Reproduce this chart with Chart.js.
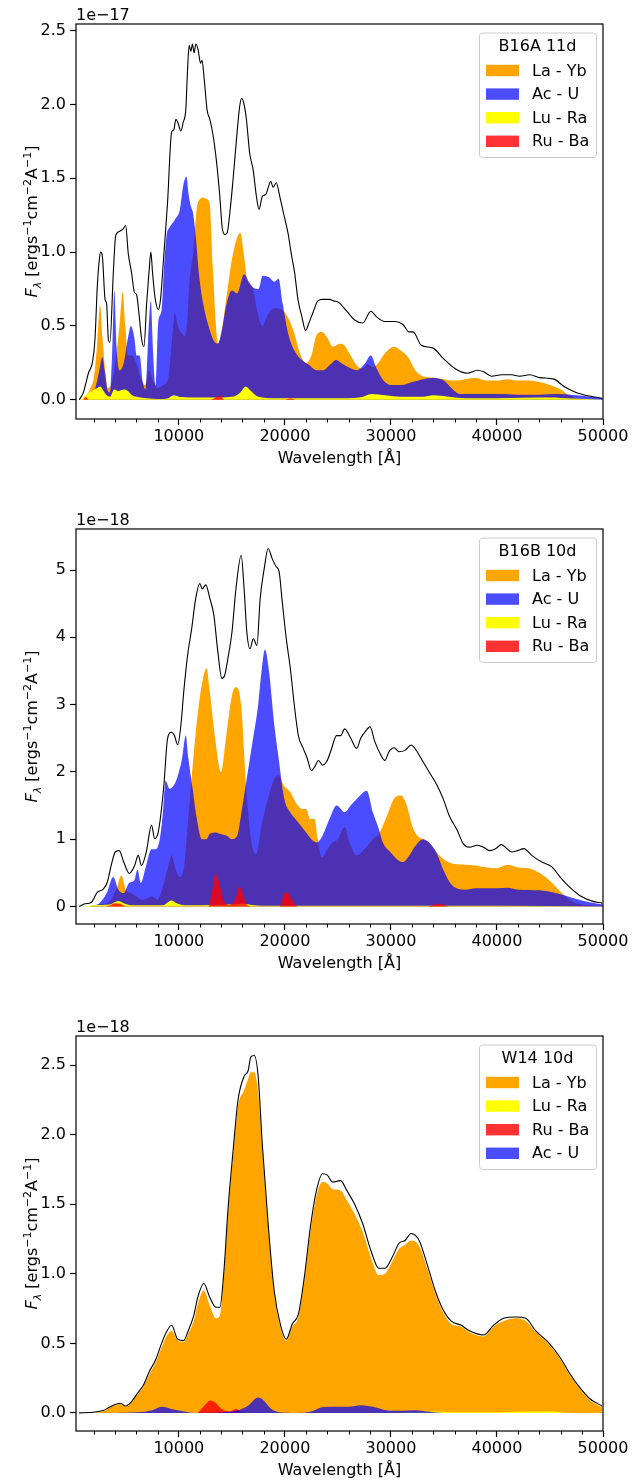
<!DOCTYPE html>
<html>
<head>
<meta charset="utf-8">
<script src="https://cdn.jsdelivr.net/npm/chart.js@4.4.1/dist/chart.umd.min.js"></script>
<style>
  html, body { margin: 0; padding: 0; background: #fff; }
  body { width: 632px; height: 1481px; position: relative; overflow: hidden; }
  canvas { position: absolute; left: 0; }
</style>
</head>
<body>
<canvas id="panelA" width="632" height="469" style="top:0px"></canvas>
<canvas id="panelB" width="632" height="469" style="top:505px"></canvas>
<canvas id="panelC" width="632" height="469" style="top:1012px"></canvas>
<script>
// ===============================
// DATA (flux in units of the panel exponent, wavelength in Angstrom)
// ===============================
const wavelengthTicks = [10000, 20000, 30000, 40000, 50000];
const wavelengthMinorTicks = [2000, 4000, 6000, 8000, 12000, 14000, 16000, 18000, 22000, 24000, 26000, 28000,
  32000, 34000, 36000, 38000, 42000, 44000, 46000, 48000];
const fluxTicksA = [0, 0.5, 1.0, 1.5, 2.0, 2.5];
const fluxTicksB = [0, 1, 2, 3, 4, 5];
const fluxTicksC = [0, 0.5, 1.0, 1.5, 2.0, 2.5];
const panelTitles = ['B16A 11d', 'B16B 10d', 'W14 10d'];
const panelExponents = ['1e\u221217', '1e\u221218', '1e\u221218'];

// B16A 11d
const b16aTotal = [[600,0],[1000,0.05],[1150,0.09],[1470,0.18],[1870,0.26],[2090,0.41],[2310,0.77],[2500,0.95],[2630,1.00],[2790,0.97],[3040,0.68],[3190,0.65],[3350,0.41],[3500,0.39],[3820,0.86],[4040,1.11],[4380,1.14],[4760,1.16],[4980,1.18],[5230,0.99],[5540,0.86],[5800,0.73],[6020,0.71],[6230,0.59],[6490,0.41],[6710,0.36],[6960,0.65],[7180,0.86],[7360,1.00],[7520,0.86],[7740,0.70],[8060,0.61],[8270,0.68],[8590,0.99],[8930,1.33],[9310,1.81],[9530,1.83],[9720,1.90],[9940,1.87],[10190,1.82],[10410,1.88],[10660,1.97],[10780,2.17],[10970,2.40],[11130,2.36],[11280,2.41],[11440,2.35],[11600,2.41],[11820,2.37],[12040,2.28],[12190,2.30],[12380,2.18],[12670,1.96],[12920,1.90],[13230,1.79],[13540,1.62],[13860,1.38],[14080,1.17],[14330,1.12],[14550,1.13],[14800,1.26],[15110,1.49],[15430,1.76],[15740,1.99],[15930,2.04],[16120,2.01],[16370,1.90],[16680,1.67],[17000,1.56],[17310,1.38],[17560,1.29],[17880,1.38],[18190,1.39],[18440,1.44],[18660,1.48],[18880,1.44],[19190,1.47],[19510,1.38],[19880,1.26],[20290,1.13],[20600,0.99],[20920,0.86],[21230,0.68],[21610,0.56],[21950,0.47],[22270,0.52],[22640,0.59],[23110,0.67],[23580,0.68],[24210,0.68],[24600,0.67],[25070,0.66],[25830,0.60],[26580,0.54],[27340,0.52],[28100,0.60],[28670,0.56],[29430,0.53],[30380,0.53],[31140,0.51],[31700,0.46],[32090,0.46],[32850,0.37],[33980,0.35],[34930,0.28],[36070,0.21],[37210,0.18],[38160,0.20],[38730,0.19],[39490,0.16],[40440,0.17],[41380,0.17],[42140,0.16],[43090,0.17],[44040,0.15],[45370,0.14],[46320,0.09],[47460,0.05],[48600,0.027],[49920,0.01]];
const b16aLaYb = [[700,0],[1200,0.02],[1600,0.07],[2000,0.16],[2300,0.38],[2570,0.64],[2800,0.42],[3050,0.2],[3300,0.08],[3600,0.1],[4000,0.25],[4400,0.5],[4700,0.73],[4950,0.5],[5200,0.3],[5600,0.3],[6000,0.25],[6400,0.15],[6800,0.1],[7200,0.2],[7600,0.12],[8000,0.08],[8500,0.1],[9000,0.15],[9400,0.45],[9620,0.59],[9900,0.5],[10300,0.45],[10560,0.43],[10800,0.55],[11000,0.8],[11350,1.0],[11700,1.3],[12000,1.36],[12300,1.37],[12600,1.36],[12900,1.33],[13200,0.9],[13500,0.5],[13700,0.38],[14000,0.45],[14500,0.7],[15000,0.95],[15500,1.1],[15800,1.13],[16100,1.0],[16500,0.8],[16900,0.77],[17400,0.6],[17860,0.5],[18400,0.58],[19000,0.62],[19700,0.61],[20200,0.57],[20800,0.47],[21500,0.3],[22000,0.25],[22500,0.3],[23000,0.44],[23500,0.46],[24000,0.42],[24500,0.36],[25200,0.38],[25600,0.37],[26200,0.3],[26800,0.23],[27300,0.21],[27800,0.24],[28300,0.22],[28800,0.25],[29500,0.32],[30300,0.36],[31000,0.33],[31700,0.28],[32300,0.2],[33000,0.16],[34000,0.15],[35000,0.14],[36000,0.13],[37000,0.14],[38000,0.15],[39000,0.13],[40000,0.13],[41000,0.14],[42000,0.13],[43000,0.13],[44000,0.12],[45000,0.1],[46000,0.07],[46800,0.03],[47500,0.01],[48500,0]];
const b16aAcU = [[1200,0],[1800,0.03],[2200,0.1],[2500,0.2],[2790,0.29],[3000,0.2],[3300,0.06],[3500,0.05],[3700,0.3],[3910,0.74],[4130,0.35],[4400,0.2],[4800,0.25],[5200,0.42],[5480,0.5],[5800,0.42],[6020,0.3],[6300,0.3],[6600,0.12],[6850,0.07],[7100,0.4],[7360,0.67],[7550,0.35],[7800,0.1],[8050,0.52],[8370,0.61],[8600,0.9],[8840,1.11],[9150,1.17],[9620,1.22],[10100,1.29],[10410,1.45],[10720,1.51],[10900,1.4],[11100,1.32],[11350,1.26],[11600,1.1],[11900,0.85],[12300,0.65],[12800,0.5],[13300,0.4],[13680,0.38],[14000,0.45],[14500,0.65],[15010,0.74],[15500,0.72],[16150,0.85],[16600,0.8],[17000,0.76],[17500,0.75],[17900,0.84],[18500,0.83],[19000,0.8],[19400,0.82],[19800,0.65],[20300,0.45],[21000,0.32],[21600,0.27],[22200,0.24],[23000,0.2],[23600,0.2],[24300,0.24],[24800,0.27],[25300,0.25],[26000,0.22],[26800,0.2],[27500,0.24],[28100,0.3],[28600,0.22],[29300,0.13],[30000,0.1],[31000,0.1],[32000,0.12],[33000,0.14],[34000,0.15],[35000,0.13],[35700,0.08],[36500,0.04],[38000,0.04],[40000,0.04],[42000,0.035],[44000,0.035],[46000,0.04],[47500,0.03],[49000,0.02],[50000,0.01]];
const b16aLuRa = [[800,0],[1200,0.03],[1800,0.06],[2300,0.08],[2600,0.09],[2900,0.06],[3200,0.03],[3500,0.02],[3900,0.07],[4300,0.06],[4800,0.07],[5200,0.06],[5600,0.03],[6000,0.02],[7000,0.01],[8000,0.005],[9000,0.01],[9500,0.03],[10000,0.02],[11000,0.015],[13000,0.015],[15000,0.02],[15800,0.05],[16300,0.09],[16800,0.06],[17500,0.02],[19000,0.01],[21000,0.01],[25000,0.01],[27000,0.015],[28200,0.04],[29500,0.03],[31000,0.02],[33000,0.02],[34000,0.03],[35500,0.02],[37000,0.01],[40000,0.01],[45000,0.015],[47000,0.008],[50000,0]];
const b16aRuBa = [[1000,0],[1200,0.02],[1500,0],[13000,0],[13600,0.02],[13900,0.025],[14300,0],[20000,0],[20500,0.008],[21000,0],[50000,0]];

// B16B 10d
const b16bTotal = [[600,0],[1160,0.04],[1730,0.06],[2300,0.21],[2870,0.26],[3250,0.36],[3620,0.61],[4000,0.81],[4380,0.83],[4760,0.68],[5330,0.49],[5830,0.61],[6170,0.76],[6470,0.61],[6930,0.81],[7420,1.21],[7720,1.01],[8060,1.11],[8560,1.75],[8940,2.5],[9320,2.59],[9580,2.54],[9890,2.4],[10190,2.69],[10460,3.19],[10830,3.74],[11210,4.13],[11590,4.58],[11970,4.8],[12200,4.72],[12540,4.78],[12920,4.58],[13300,4.33],[13680,3.78],[14060,3.39],[14330,3.44],[14630,3.69],[15010,4.08],[15390,4.73],[15880,5.22],[16150,4.73],[16410,4.08],[16720,3.83],[17020,3.98],[17360,3.88],[17670,4.58],[18050,5.02],[18420,5.32],[18800,5.17],[19180,5.05],[19450,4.98],[19750,4.53],[20130,3.98],[20510,3.54],[20890,2.99],[21270,2.54],[21730,2.35],[22110,2.2],[22490,2.02],[22790,2.07],[23170,2.17],[23550,2.1],[23930,2.15],[24310,2.3],[24880,2.54],[25260,2.54],[25640,2.64],[26210,2.5],[26770,2.35],[27150,2.5],[27530,2.59],[28030,2.67],[28480,2.45],[29050,2.25],[29430,2.17],[29810,2.3],[30300,2.36],[30760,2.3],[31330,2.32],[31900,2.4],[32470,2.3],[33030,2.15],[33600,2.0],[34360,1.8],[34930,1.6],[35500,1.35],[36260,1.13],[36830,0.93],[37400,0.88],[38160,0.91],[38730,0.88],[39300,0.83],[39870,0.86],[40440,0.92],[40930,0.86],[41380,0.81],[41950,0.83],[42520,0.86],[43280,0.76],[44230,0.66],[45180,0.59],[45940,0.44],[46700,0.31],[47840,0.16],[48980,0.08],[49920,0.05]];
const b16bLaYb = [[1500,0],[2500,0.03],[3500,0.08],[4200,0.3],[4570,0.46],[5000,0.25],[5500,0.2],[6000,0.15],[6500,0.1],[7000,0.12],[7500,0.15],[8000,0.1],[8500,0.3],[9000,0.6],[9320,0.76],[9700,0.55],[10080,0.44],[10500,0.6],[10830,1.2],[11200,1.9],[11600,2.6],[12160,3.29],[12620,3.54],[12920,3.19],[13420,2.5],[13980,2.0],[14440,2.5],[15010,3.14],[15390,3.26],[15880,2.99],[16340,1.8],[16800,1.0],[17300,0.78],[17800,1.2],[18400,1.6],[19000,1.9],[19400,1.95],[19900,1.8],[20510,1.7],[21000,1.55],[21650,1.45],[22000,1.45],[22400,1.3],[22800,1.3],[23100,1.0],[23500,0.73],[24000,0.85],[24500,0.95],[25000,1.0],[25640,1.18],[26100,0.95],[26770,0.76],[27500,0.85],[28300,1.0],[28860,1.08],[29500,1.3],[30300,1.6],[30950,1.65],[31500,1.5],[32000,1.2],[32500,1.05],[33030,1.0],[33600,0.95],[34200,0.82],[35000,0.7],[36000,0.63],[37000,0.62],[38000,0.61],[39000,0.58],[40000,0.57],[41000,0.62],[42000,0.58],[43000,0.57],[44000,0.5],[45000,0.38],[46000,0.22],[47000,0.08],[48000,0.03],[49000,0.02],[50000,0.01]];
const b16bAcU = [[1500,0],[2500,0.05],[3200,0.2],[3800,0.44],[4300,0.25],[4800,0.2],[5300,0.35],[5800,0.39],[6100,0.55],[6400,0.35],[6900,0.6],[7420,0.85],[7800,0.85],[8200,1.0],[8500,1.4],[8750,1.87],[9130,1.75],[9600,1.82],[10000,2.0],[10300,2.2],[10650,2.54],[10900,2.2],[11300,1.75],[11700,1.3],[12160,1.0],[12600,1.0],[12920,1.08],[13500,1.1],[13870,1.08],[14500,1.05],[15000,1.0],[15500,1.05],[16000,1.5],[16500,2.0],[17000,2.5],[17480,3.0],[17800,3.5],[18120,3.82],[18500,3.5],[19000,2.7],[19370,2.25],[19940,1.6],[20500,1.4],[21000,1.3],[21500,1.2],[22000,1.1],[22500,1.0],[23000,0.95],[23550,1.05],[24200,1.3],[24880,1.5],[25640,1.4],[26200,1.5],[26800,1.6],[27720,1.72],[28300,1.4],[28860,1.15],[29240,0.95],[30000,0.8],[30600,0.7],[31140,0.66],[31700,0.75],[32300,0.9],[33030,1.0],[33600,0.95],[34300,0.8],[34930,0.55],[35600,0.35],[36200,0.27],[37000,0.25],[38000,0.27],[40000,0.27],[41000,0.28],[42000,0.25],[44000,0.24],[45500,0.2],[46500,0.16],[47500,0.11],[48500,0.07],[49500,0.04],[50000,0.03]];
const b16bLuRa = [[1000,0],[2000,0.02],[3500,0.03],[4300,0.08],[4800,0.05],[5500,0.02],[8500,0.02],[9300,0.09],[9800,0.05],[10500,0.02],[12000,0.02],[15000,0.03],[16000,0.04],[17000,0.02],[20000,0.01],[30000,0.01],[40000,0.01],[50000,0]];
const b16bRuBa = [[1000,0],[3000,0],[3500,0.02],[4000,0.05],[4500,0.04],[5000,0],[12800,0],[13100,0.2],[13500,0.48],[13800,0.35],[14200,0.1],[14700,0.02],[15300,0.1],[15700,0.3],[16000,0.2],[16400,0.03],[17000,0],[19500,0],[19900,0.18],[20200,0.21],[20600,0.12],[21000,0.02],[21500,0],[33500,0],[34500,0.04],[35500,0],[50000,0]];

// W14 10d
const w14Total = [[600,0],[1920,0.005],[2870,0.017],[3440,0.04],[4000,0.06],[4500,0.07],[4950,0.05],[5520,0.08],[6090,0.14],[6660,0.2],[7230,0.3],[7800,0.38],[8370,0.5],[8820,0.58],[9320,0.63],[9890,0.53],[10460,0.52],[10830,0.58],[11400,0.7],[11780,0.83],[12350,0.93],[12920,0.83],[13490,0.76],[13870,0.76],[14250,1.02],[14630,1.46],[15120,1.89],[15580,2.25],[16150,2.42],[16530,2.46],[16790,2.56],[17100,2.57],[17480,2.42],[17860,1.94],[18420,1.36],[18990,0.88],[19560,0.64],[20130,0.53],[20700,0.64],[21270,0.71],[21840,0.98],[22410,1.34],[22980,1.6],[23550,1.72],[24000,1.71],[24500,1.66],[25260,1.67],[25830,1.6],[26580,1.5],[27340,1.36],[28100,1.17],[28860,1.04],[29430,1.04],[30190,1.13],[30760,1.22],[31330,1.24],[31900,1.29],[32660,1.24],[33410,1.07],[34170,0.88],[34930,0.74],[35690,0.66],[36640,0.63],[37400,0.59],[38730,0.56],[39680,0.63],[40630,0.68],[41760,0.69],[42710,0.68],[43660,0.59],[44800,0.51],[45940,0.4],[46890,0.28],[47840,0.18],[48790,0.1],[49920,0.05]];
const w14LaYb = [[1500,0],[2800,0.01],[3400,0.035],[4000,0.055],[4500,0.065],[4950,0.045],[5520,0.075],[6090,0.13],[6660,0.19],[7230,0.28],[7800,0.36],[8370,0.47],[8820,0.55],[9320,0.59],[9890,0.52],[10460,0.51],[10830,0.56],[11400,0.66],[11780,0.78],[12350,0.88],[12920,0.77],[13490,0.68],[13870,0.7],[14250,0.98],[14630,1.42],[15120,1.85],[15580,2.2],[16150,2.32],[16530,2.4],[16790,2.45],[17100,2.45],[17480,2.3],[17860,1.9],[18420,1.33],[18990,0.86],[19560,0.62],[20130,0.52],[20700,0.62],[21270,0.69],[21840,0.95],[22410,1.3],[22980,1.56],[23550,1.66],[24000,1.65],[24500,1.61],[25260,1.6],[25830,1.53],[26580,1.43],[27340,1.3],[28100,1.12],[28860,0.99],[29430,1.0],[30190,1.1],[30760,1.18],[31330,1.21],[31900,1.24],[32660,1.2],[33410,1.04],[34170,0.86],[34930,0.72],[35690,0.64],[36640,0.62],[37400,0.58],[38730,0.55],[39680,0.62],[40630,0.66],[41760,0.68],[42710,0.66],[43660,0.58],[44800,0.5],[45940,0.39],[46890,0.27],[47840,0.17],[48790,0.09],[49920,0.04]];
const w14LuRa = [[30000,0],[34000,0.01],[36000,0.005],[40000,0.005],[43500,0.01],[45000,0.01],[47000,0],[50000,0]];
const w14RuBa = [[11800,0],[12500,0.06],[12920,0.09],[13500,0.07],[14000,0.03],[14800,0.01],[15400,0.03],[15800,0.01],[16500,0],[50000,0]];
const w14AcU = [[4000,0],[6000,0.005],[7500,0.02],[8370,0.045],[9500,0.025],[10500,0.01],[11500,0],[15000,0.01],[16500,0.05],[17480,0.11],[18000,0.09],[18700,0.03],[19500,0.005],[21000,0],[22500,0.01],[23500,0.04],[25000,0.045],[26000,0.045],[27200,0.055],[28500,0.04],[29500,0.02],[31000,0.015],[32300,0.02],[33500,0.01],[35000,0],[50000,0]];

// ===============================
// STYLE
// ===============================
const FONT = 'DejaVu Sans';
const groupColors = {
  'La - Yb': '#ffa500',
  'Ac - U': 'rgba(0, 0, 255, 0.7)',
  'Lu - Ra': '#ffff00',
  'Ru - Ba': 'rgba(255, 0, 0, 0.8)'
};

Chart.defaults.font.family = FONT;
Chart.defaults.font.size = 16;
Chart.defaults.color = '#000';

// Frame, minor ticks, offset text, y title and legend box (matplotlib look)
const panelDecor = {
  id: 'panelDecor',
  afterDraw(chart, args, opts) {
    const { ctx, chartArea: a, scales } = chart;
    ctx.save();

    // frame
    ctx.strokeStyle = '#000';
    ctx.lineWidth = 1.2;
    ctx.strokeRect(a.left, a.top, a.right - a.left, a.bottom - a.top);

    // minor x ticks
    ctx.lineWidth = 1;
    ctx.beginPath();
    wavelengthMinorTicks.forEach(v => {
      const px = Math.round(scales.x.getPixelForValue(v)) + 0.5;
      ctx.moveTo(px, a.bottom);
      ctx.lineTo(px, a.bottom + 3.5);
    });
    ctx.stroke();

    // offset text
    ctx.fillStyle = '#000';
    ctx.font = `16px "${FONT}"`;
    ctx.textAlign = 'left';
    ctx.textBaseline = 'alphabetic';
    ctx.fillText(opts.exponent, a.left, a.top - 4);

    // y axis title with subscript / superscripts
    const segs = [
      { t: 'F', f: `italic 16px "${FONT}"`, dy: 0 },
      { t: '\u03bb', f: `italic 11px "${FONT}"`, dy: 3.5 },
      { t: ' [ergs', f: `16px "${FONT}"`, dy: 0 },
      { t: '\u22121', f: `11px "${FONT}"`, dy: -6.5 },
      { t: 'cm', f: `16px "${FONT}"`, dy: 0 },
      { t: '\u22122', f: `11px "${FONT}"`, dy: -6.5 },
      { t: 'A', f: `16px "${FONT}"`, dy: 0 },
      { t: '\u22121', f: `11px "${FONT}"`, dy: -6.5 },
      { t: ']', f: `16px "${FONT}"`, dy: 0 }
    ];
    let total = 0;
    segs.forEach(s => { ctx.font = s.f; s.w = ctx.measureText(s.t).width; total += s.w; });
    ctx.translate(opts.yTitleX, (a.top + a.bottom) / 2);
    ctx.rotate(-Math.PI / 2);
    let cx = -total / 2;
    segs.forEach(s => {
      ctx.font = s.f;
      ctx.fillText(s.t, cx, s.dy);
      cx += s.w;
    });
    ctx.setTransform(1, 0, 0, 1, 0, 0);

    // legend box
    const w = 117, h = 124.5;
    const x0 = a.right - 7 - w, y0 = a.top + 8.5;
    ctx.beginPath();
    ctx.roundRect(x0 + 0.5, y0 + 0.5, w, h, 3);
    ctx.fillStyle = 'rgba(255,255,255,0.8)';
    ctx.fill();
    ctx.strokeStyle = '#cccccc';
    ctx.lineWidth = 1;
    ctx.stroke();

    ctx.fillStyle = '#000';
    ctx.font = `16px "${FONT}"`;
    ctx.textAlign = 'center';
    ctx.textBaseline = 'middle';
    ctx.fillText(opts.title, x0 + w / 2, y0 + 14);
    ctx.textAlign = 'left';
    opts.items.forEach((label, i) => {
      const cy = y0 + 38 + i * 23.6;
      ctx.fillStyle = groupColors[label];
      ctx.fillRect(x0 + 7, cy - 5.7, 33, 11.4);
      ctx.fillStyle = '#000';
      ctx.fillText(label, x0 + 53, cy + 1);
    });
    ctx.restore();
  }
};

function toPoints(arr) {
  return arr.map(([x, y]) => ({ x, y }));
}

// series: [[label, data], ...] bottom layer first
function buildPanel(id, title, exponent, total, series, yMin, yMax, yTicks, decimals) {
  const n = series.length;
  const datasets = series.map(([label, data], i) => ({
    label,
    data: toPoints(data),
    backgroundColor: groupColors[label],
    borderWidth: 0,
    pointRadius: 0,
    fill: 'origin',
    cubicInterpolationMode: 'monotone',
    order: n - i + 1
  }));
  datasets.push({
    label: 'total',
    data: toPoints(total),
    borderColor: '#000',
    borderWidth: 1.1,
    pointRadius: 0,
    fill: false,
    cubicInterpolationMode: 'monotone',
    order: 0
  });

  const tickGrid = {
    display: true,
    drawOnChartArea: false,
    drawTicks: true,
    tickLength: 6,
    tickWidth: 1.2,
    tickColor: '#000'
  };

  return new Chart(document.getElementById(id), {
    type: 'line',
    data: { datasets },
    options: {
      responsive: false,
      animation: false,
      events: [],
      layout: { padding: { left: 0, right: 29, top: 24, bottom: 0 } },
      plugins: {
        legend: { display: false },
        tooltip: { enabled: false },
        panelDecor: {
          title,
          exponent,
          yTitleX: 37,
          items: series.map(s => s[0])
        }
      },
      scales: {
        x: {
          type: 'linear',
          min: 300,
          max: 50000,
          afterBuildTicks: s => { s.ticks = wavelengthTicks.map(v => ({ value: v })); },
          afterFit: s => { s.height = 50; },
          ticks: { autoSkip: false, maxRotation: 0, padding: 2, callback: v => String(v) },
          grid: tickGrid,
          border: { display: false },
          title: { display: true, text: 'Wavelength [Å]', padding: { top: 0, bottom: 1 } }
        },
        y: {
          type: 'linear',
          min: yMin,
          max: yMax,
          afterBuildTicks: s => { s.ticks = yTicks.map(v => ({ value: v })); },
          afterFit: s => { s.width = 76; },
          ticks: { autoSkip: false, padding: 4, callback: v => v.toFixed(decimals) },
          grid: tickGrid,
          border: { display: false }
        }
      }
    },
    plugins: [panelDecor]
  });
}

document.addEventListener('DOMContentLoaded', () => {
  buildPanel('panelA', panelTitles[0], panelExponents[0], b16aTotal,
    [['La - Yb', b16aLaYb], ['Ac - U', b16aAcU], ['Lu - Ra', b16aLuRa], ['Ru - Ba', b16aRuBa]],
    -0.13, 2.545, fluxTicksA, 1);
  buildPanel('panelB', panelTitles[1], panelExponents[1], b16bTotal,
    [['La - Yb', b16bLaYb], ['Ac - U', b16bAcU], ['Lu - Ra', b16bLuRa], ['Ru - Ba', b16bRuBa]],
    -0.26, 5.61, fluxTicksB, 0);
  buildPanel('panelC', panelTitles[2], panelExponents[2], w14Total,
    [['La - Yb', w14LaYb], ['Lu - Ra', w14LuRa], ['Ru - Ba', w14RuBa], ['Ac - U', w14AcU]],
    -0.13, 2.71, fluxTicksC, 1);
});
</script>
</body>
</html>
